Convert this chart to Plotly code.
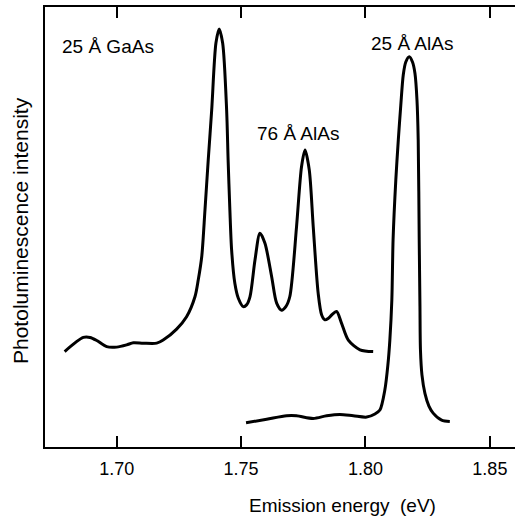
import plotly.graph_objects as go

# Curve 1: 25 Å GaAs + 76 Å AlAs spectrum (energy eV, intensity arb. units)
gaas_energy = [1.6791, 1.6866, 1.6893, 1.6920, 1.6960, 1.7000, 1.7040, 1.7067, 1.7107, 1.7161,
               1.7187, 1.7241, 1.7281, 1.7315, 1.7328, 1.7342, 1.7355, 1.7368, 1.7382, 1.7399,
               1.7412, 1.7426, 1.7442, 1.7448, 1.7455, 1.7462, 1.7475, 1.7489, 1.7509, 1.7522,
               1.7536, 1.7556, 1.7576, 1.7596, 1.7623, 1.7643, 1.7663, 1.7680, 1.7696, 1.7723,
               1.7743, 1.7757, 1.7774, 1.7790, 1.7810, 1.7824, 1.7837, 1.7850, 1.7864, 1.7884,
               1.7904, 1.7931, 1.7978, 1.8031]
gaas_intensity = [21.7, 24.9, 24.9, 24.2, 22.8, 22.7, 23.2, 23.7, 23.6, 23.6,
                  24.3, 26.8, 29.6, 34.2, 38.0, 43.3, 53.9, 65.2, 76.6, 91.8,
                  95.0, 91.8, 76.6, 65.2, 53.9, 44.8, 37.2, 33.8, 31.9, 32.3,
                  34.2, 42.5, 48.6, 46.3, 38.7, 32.7, 31.1, 31.9, 34.2, 50.1,
                  63.7, 67.5, 63.0, 50.1, 34.9, 30.0, 28.9, 29.2, 30.0, 30.8,
                  28.1, 24.3, 22.1, 21.7]

# Curve 2: 25 Å AlAs spectrum
alas_energy = [1.7520, 1.7603, 1.7683, 1.7723, 1.7790, 1.7844, 1.7897, 1.7951, 1.8005, 1.8038,
               1.8058, 1.8078, 1.8090, 1.8098, 1.8106, 1.8111, 1.8122, 1.8132, 1.8142, 1.8152,
               1.8162, 1.8176, 1.8189, 1.8199, 1.8207, 1.8212, 1.8216, 1.8219, 1.8221, 1.8227,
               1.8239, 1.8255, 1.8272, 1.8306, 1.8339]
alas_intensity = [5.5, 6.3, 7.1, 7.1, 6.5, 7.1, 7.4, 7.1, 6.8, 7.5,
                  8.4, 13.0, 18.6, 24.3, 33.4, 47.1, 60.7, 69.8, 77.7, 84.6,
                  87.5, 88.7, 87.5, 84.9, 78.9, 69.8, 47.1, 31.9, 22.1, 16.4,
                  12.2, 9.3, 7.7, 6.1, 5.8]

tick_vals = [1.70, 1.75, 1.80, 1.85]
tick_text = ["1.70", "1.75", "1.80", "1.85"]

labels = ["25 Å GaAs", "76 Å AlAs", "25 Å AlAs"]
label_x = [1.6771, 1.7557, 1.8014]
label_y = [91.0, 71.3, 91.6]

FONT = "Liberation Sans, Arial, Helvetica, sans-serif"

fig = go.Figure()
for ex, iy in ((gaas_energy, gaas_intensity), (alas_energy, alas_intensity)):
    fig.add_trace(go.Scatter(x=ex, y=iy, mode="lines",
                             line=dict(color="black", width=3, shape="spline", smoothing=0.8),
                             hoverinfo="skip", showlegend=False))

for t, x, y in zip(labels, label_x, label_y):
    fig.add_annotation(x=x, y=y, text=t, showarrow=False, xanchor="left", yanchor="middle",
                       font=dict(family=FONT, size=19, color="black"))

fig.add_annotation(x=(342 - 45) / 470, y=-(505 - 447) / 440, xref="paper", yref="paper",
                   text="Emission energy  (eV)", showarrow=False,
                   xanchor="center", yanchor="middle",
                   font=dict(family=FONT, size=19, color="black"))

fig.add_annotation(x=-(45 - 21) / 470, y=(447 - 231) / 440, xref="paper", yref="paper",
                   text="Photoluminescence intensity", showarrow=False, textangle=-90,
                   xanchor="center", yanchor="middle",
                   font=dict(family=FONT, size=21, color="black"))

fig.update_layout(
    width=515, height=516,
    margin=dict(l=45, r=0, t=7, b=69),
    paper_bgcolor="white", plot_bgcolor="white",
    font=dict(family=FONT, size=18, color="black"),
    xaxis=dict(range=[1.6712, 1.8601], tickvals=tick_vals, ticktext=tick_text,
               ticks="inside", ticklen=11, tickwidth=2, tickcolor="black",
               showline=True, linecolor="black", linewidth=2, mirror="ticks",
               showgrid=False, zeroline=False, ticklabelstandoff=4,
               tickfont=dict(family=FONT, size=18, color="black")),
    yaxis=dict(range=[0, 100], showticklabels=False, ticks="",
               showline=True, linecolor="black", linewidth=2, mirror=False,
               showgrid=False, zeroline=False),
)

fig.write_html("out.html")
